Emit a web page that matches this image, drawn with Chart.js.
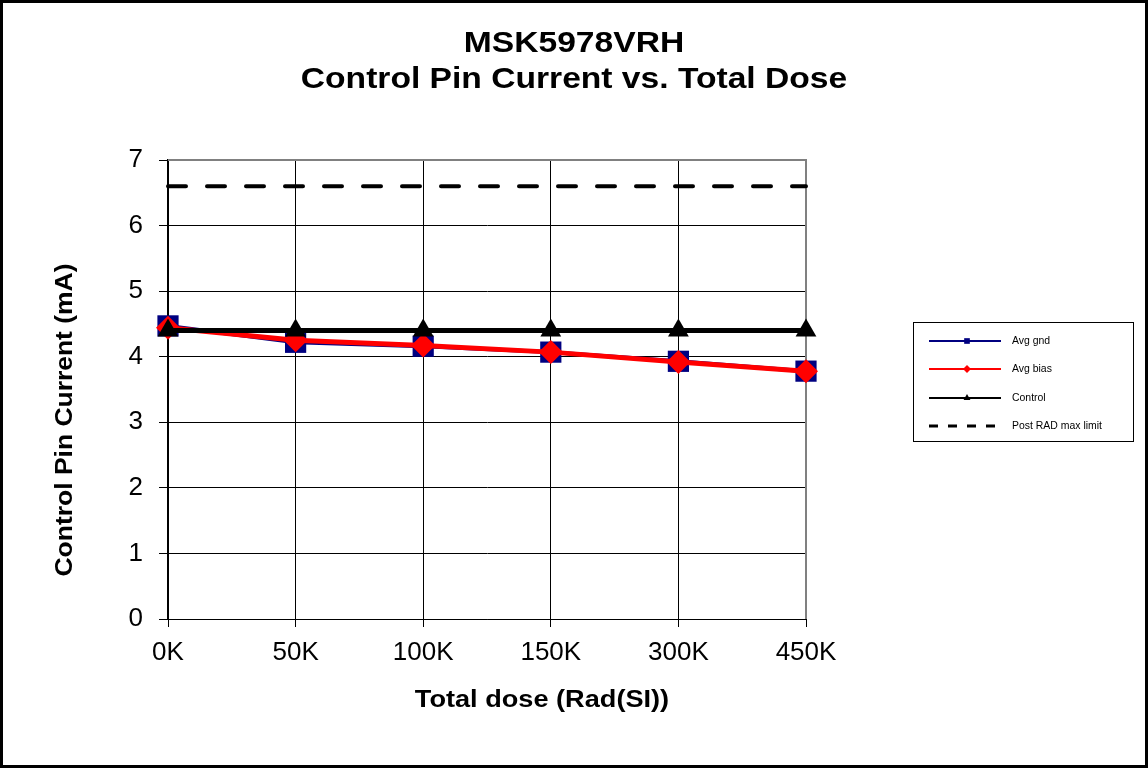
<!DOCTYPE html>
<html>
<head>
<meta charset="utf-8">
<script src="https://cdn.jsdelivr.net/npm/chart.js@4"></script>
<style>
  html, body { margin: 0; padding: 0; background: #fff; }
  #wrap { width: 1148px; height: 768px; }
</style>
</head>
<body>
<div id="wrap"><canvas id="chart" width="1148" height="768"></canvas></div>
<script>
// Données
const doses = ["0K", "50K", "100K", "150K", "300K", "450K"];
const avgGnd = [4.47, 4.22, 4.16, 4.07, 3.93, 3.78];
const avgBias = [4.44, 4.25, 4.17, 4.07, 3.92, 3.78];
const control = [4.4, 4.4, 4.4, 4.4, 4.4, 4.4];
const postRadLimit = [6.6, 6.6, 6.6, 6.6, 6.6, 6.6];

const titleLines = ["MSK5978VRH", "Control Pin Current vs. Total Dose"];
const xTitle = "Total dose (Rad(SI))";
const yTitle = "Control Pin Current (mA)";
const legendLabels = ["Avg gnd", "Avg bias", "Control", "Post RAD max limit"];

const FONT = "Arial, 'Liberation Sans', sans-serif";

// Texte étiré horizontalement comme dans l'original
function stretchedText(ctx, text, x, y, sx) {
  ctx.save();
  ctx.translate(x, y);
  ctx.scale(sx, 1);
  ctx.fillText(text, 0, 0);
  ctx.restore();
}

const decorPlugin = {
  id: "decor",
  beforeDraw(chart) {
    const ctx = chart.ctx;
    ctx.save();
    ctx.fillStyle = "#fff";
    ctx.fillRect(0, 0, chart.width, chart.height);
    ctx.restore();
  },
  beforeDatasetsDraw(chart) {
    // bordure du plot (haut et droite gris)
    const ctx = chart.ctx;
    const a = chart.chartArea;
    ctx.save();
    ctx.strokeStyle = "#808080";
    ctx.lineWidth = 2;
    ctx.beginPath();
    ctx.moveTo(a.left, a.top);
    ctx.lineTo(a.right, a.top);
    ctx.lineTo(a.right, a.bottom);
    ctx.stroke();
    ctx.restore();
  },
  afterDraw(chart) {
    const ctx = chart.ctx;
    ctx.save();

    // cadre extérieur
    ctx.strokeStyle = "#000";
    ctx.lineWidth = 3;
    ctx.strokeRect(1.5, 1.5, 1145, 765);

    // titre
    ctx.fillStyle = "#000";
    ctx.textAlign = "center";
    ctx.textBaseline = "alphabetic";
    ctx.font = "bold 30px " + FONT;
    stretchedText(ctx, titleLines[0], 574, 52, 1.12);
    stretchedText(ctx, titleLines[1], 574, 88, 1.12);

    // titres des axes
    ctx.font = "bold 23px " + FONT;
    ctx.textBaseline = "middle";
    stretchedText(ctx, xTitle, 542, 701, 1.18);
    ctx.save();
    ctx.translate(66, 420);
    ctx.rotate(-Math.PI / 2);
    ctx.scale(1.15, 1);
    ctx.fillText(yTitle, 0, 0);
    ctx.restore();

    // légende
    const lx = 913, ly = 322, lw = 220, lh = 119;
    ctx.strokeStyle = "#000";
    ctx.lineWidth = 1;
    ctx.strokeRect(lx + 0.5, ly + 0.5, lw, lh);
    ctx.font = "11px " + FONT;
    ctx.textAlign = "left";
    const rows = [341, 369, 398, 426];
    chart.data.datasets.forEach((ds, i) => {
      const y = rows[i];
      ctx.save();
      ctx.strokeStyle = ds.borderColor;
      ctx.lineWidth = 2;
      if (ds.borderDash && ds.borderDash.length) {
        ctx.setLineDash([9, 10]);
        ctx.lineWidth = 3;
      }
      ctx.beginPath();
      ctx.moveTo(929, y);
      ctx.lineTo(1001, y);
      ctx.stroke();
      ctx.restore();
      if (ds.pointRadius > 0) {
        ctx.save();
        ctx.fillStyle = ds.pointBackgroundColor;
        ctx.strokeStyle = ds.pointBackgroundColor;
        ctx.lineWidth = 0;
        Chart.helpers.drawPoint(ctx, {
          pointStyle: ds.pointStyle,
          radius: 4,
          borderWidth: 0
        }, 967, y);
        ctx.restore();
      }
      ctx.fillStyle = "#000";
      stretchedText(ctx, legendLabels[i], 1012, y, 0.95);
    });
    ctx.restore();
  }
};

new Chart(document.getElementById("chart"), {
  type: "line",
  data: {
    labels: doses,
    datasets: [
      {
        label: legendLabels[0],
        data: avgGnd,
        borderColor: "#000080",
        backgroundColor: "#000080",
        pointBackgroundColor: "#000080",
        pointBorderColor: "#000080",
        borderWidth: 4,
        pointStyle: "rect",
        pointRadius: 15,
        pointBorderWidth: 0,
        order: 3
      },
      {
        label: legendLabels[1],
        data: avgBias,
        borderColor: "#ff0000",
        backgroundColor: "#ff0000",
        pointBackgroundColor: "#ff0000",
        pointBorderColor: "#ff0000",
        borderWidth: 5,
        pointStyle: "rectRot",
        pointRadius: 12,
        pointBorderWidth: 0,
        order: 2
      },
      {
        label: legendLabels[2],
        data: control,
        borderColor: "#000",
        backgroundColor: "#000",
        pointBackgroundColor: "#000",
        pointBorderColor: "#000",
        borderWidth: 5,
        pointStyle: "triangle",
        pointRadius: 12,
        pointBorderWidth: 0,
        order: 1
      },
      {
        label: legendLabels[3],
        data: postRadLimit,
        borderColor: "#000",
        backgroundColor: "#000",
        borderWidth: 4,
        borderDash: [18, 21],
        borderCapStyle: "round",
        pointRadius: 0,
        order: 0
      }
    ]
  },
  options: {
    responsive: false,
    animation: false,
    layout: { padding: { top: 160, right: 342, bottom: 0, left: 0 } },
    plugins: {
      legend: { display: false },
      title: { display: false },
      tooltip: { enabled: false }
    },
    scales: {
      x: {
        offset: false,
        grid: { color: "#000", lineWidth: 1, tickLength: 8, tickColor: "#000" },
        border: { color: "#000", width: 1 },
        ticks: { color: "#000", font: { family: FONT, size: 26 }, padding: 10, maxRotation: 0 },
        afterFit: (scale) => { scale.height = 149; }
      },
      y: {
        min: 0,
        max: 7,
        ticks: { stepSize: 1, color: "#000", font: { family: FONT, size: 26 }, padding: 16 },
        grid: { color: "#000", lineWidth: 1, tickLength: 9, tickColor: "#000" },
        border: { color: "#000", width: 2 },
        afterFit: (scale) => { scale.width = 168; }
      }
    }
  },
  plugins: [decorPlugin]
});
</script>
</body>
</html>
